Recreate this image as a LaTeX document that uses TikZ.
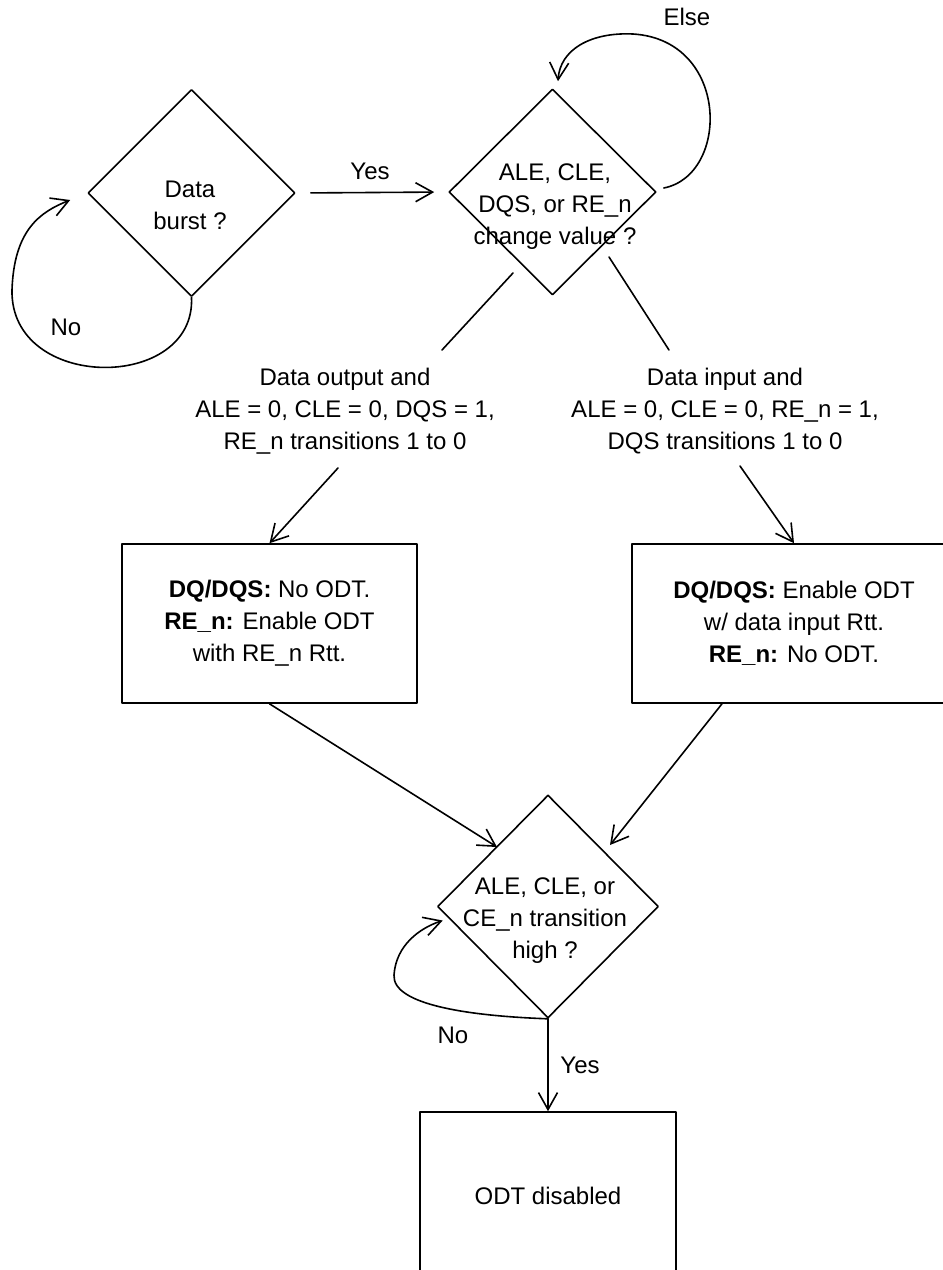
\documentclass[tikz,border=0pt]{standalone}
\usepackage{fontspec}
\setmainfont{Liberation Sans}
\usetikzlibrary{arrows.meta,shapes.geometric}

\begin{document}
\begin{tikzpicture}[x=0.5pt,y=-0.5pt,>={Straight Barb[length=8.5pt,width=9.5pt]},
    line cap=round,line join=round,
    flow/.style={line width=.8pt},
    decision/.style={draw,line width=.8pt,diamond,shape aspect=1,inner sep=0pt},
    action/.style={draw,line width=.8pt,rectangle,inner sep=0pt},
    txt/.style={align=center,font=\fontsize{12}{16}\selectfont}]
    \useasboundingbox (0,0) rectangle (943,1270);

    % The three questions.
    \node[decision,minimum width=103.5pt,minimum height=103.5pt] (burst) at (191.5,193) {};
    \node[txt] (burstText) at (190,205) {Data\\burst ?};
    \node[decision,minimum width=103.5pt,minimum height=103pt] (change) at (552.5,192) {};
    \node[txt] (changeText) at (555,207) {ALE, CLE,\\DQS, or RE\_n\\change value ?};
    \node[decision,minimum width=110.5pt,minimum height=111.5pt] (high) at (548,906.5) {};
    \node[txt] (highText) at (545,921) {ALE, CLE, or\\CE\_n transition\\high ?};

    % The two conditions below the second question.
    \node[txt] (outCond) at (345,411) {Data output and\\ALE = 0, CLE = 0, DQS = 1,\\RE\_n transitions 1 to 0};
    \node[txt] (inCond) at (725,411) {Data input and\\ALE = 0, CLE = 0, RE\_n = 1,\\DQS transitions 1 to 0};

    % The actions.
    \node[action,txt,minimum width=147.5pt,minimum height=79.5pt] (outBox) at (269.5,623.5)
      {\textbf{DQ/DQS:} No ODT.\\\textbf{RE\_n:} Enable ODT\\with RE\_n Rtt.};
    \node[action,txt,minimum width=162pt,minimum height=79.5pt] (inBox) at (794,623.5)
      {\textbf{DQ/DQS:} Enable ODT\\w/ data input Rtt.\\\textbf{RE\_n:} No ODT.};
    \node[action,txt,minimum width=128pt,minimum height=84pt] (offBox) at (548,1196) {ODT disabled};

    % Free ends of the connectors.
    \coordinate (outTop) at (513,273);
    \coordinate (outEnd) at (442,350);
    \coordinate (inTop) at (609,257);
    \coordinate (inEnd) at (669,350);
    \coordinate (outFoot) at (338,468);
    \coordinate (inFoot) at (740,466);
    \coordinate (highL) at (497,847);
    \coordinate (highR) at (610,845);

    % Data burst, with its loop.
    \draw[flow,->,shorten <=7.5pt,shorten >=7pt] (burst.east) -- (change.west);
    \node[txt] (yesTop) at (370,171) {Yes};
    \draw[flow,->] (burst.south) .. controls (196,392) and (10,392) .. (12,290)
      .. controls (14,230) and (40,212) .. ([shift={(-17,7)}]burst.west);
    \node[txt] (noTop) at (66,327) {No};

    % The else loop of the second question.
    \draw[flow,->] ([shift={(7,-4)}]change.east) .. controls (730,175) and (730,40) .. (633,34)
      .. controls (590,32) and (560,50) .. ([shift={(5.5,-7)}]change.north);
    \node[txt] (elseTop) at (687,17) {Else};

    % Down to the actions.
    \draw[flow] (outTop) -- (outEnd);
    \draw[flow] (inTop) -- (inEnd);
    \draw[flow,->] (outFoot) -- (outBox.north);
    \draw[flow,->] (inFoot) -- (inBox.north);
    \draw[flow,->] (outBox.south) -- (highL);
    \draw[flow,->] ([shift={(-72,0)}]inBox.south) -- (highR);

    % The last question.
    \draw[flow,->] (high.south) .. controls (470,1016) and (392,1005) .. (394,975)
      .. controls (396,945) and (420,928) .. ([shift={(6,14)}]high.west);
    \node[txt] (noLow) at (453,1035) {No};
    \draw[flow,->] (high.south) -- (offBox.north);
    \node[txt] (yesLow) at (580,1065) {Yes};
  \end{tikzpicture}
\end{document}
